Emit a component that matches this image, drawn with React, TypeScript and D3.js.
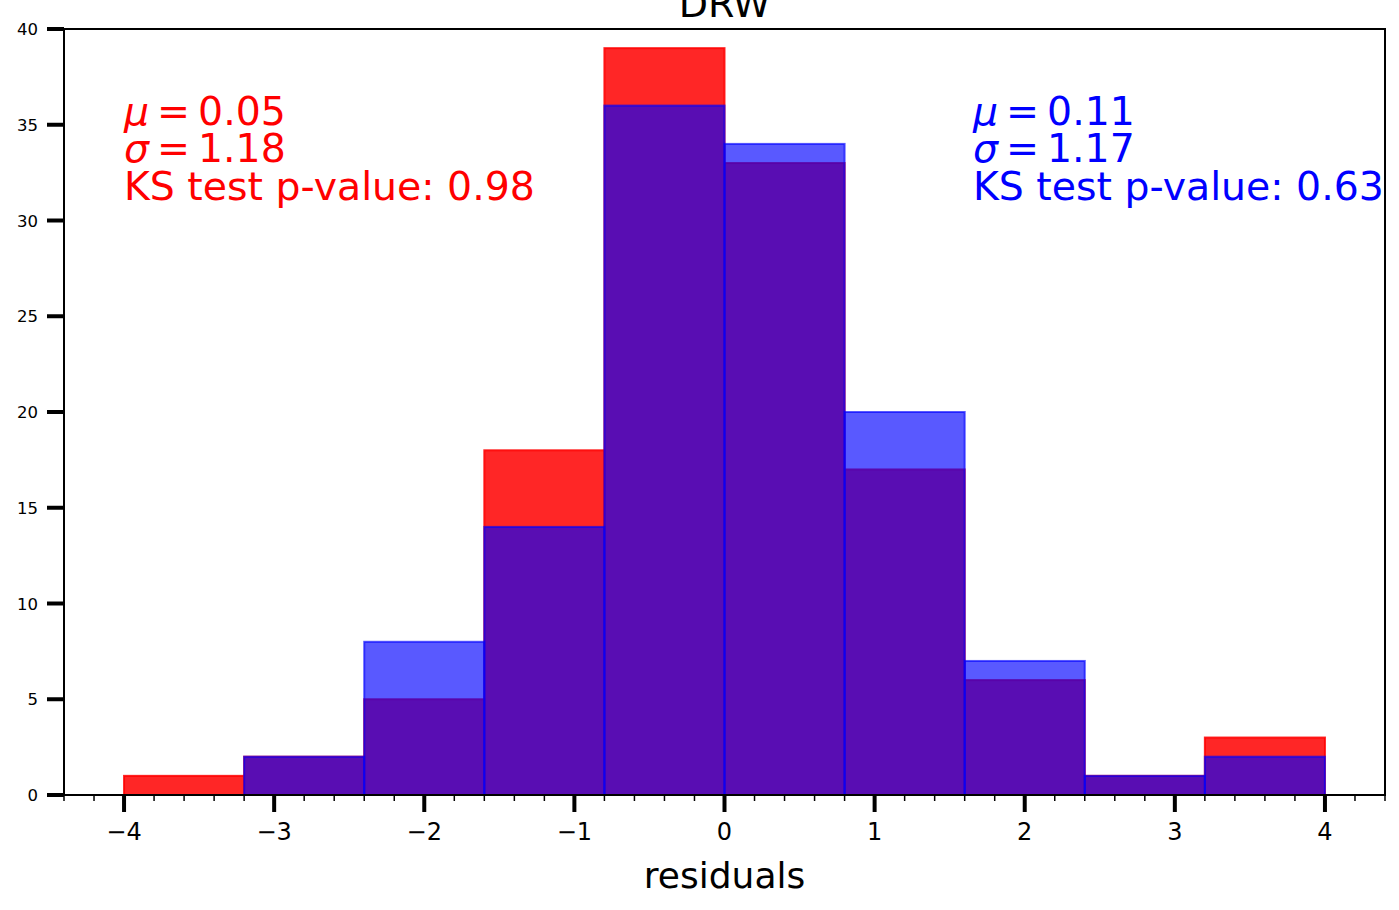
import React, { useEffect, useRef } from 'react';
import * as d3 from 'd3';

const binEdges = [-4, -3.2, -2.4, -1.6, -0.8, 0, 0.8, 1.6, 2.4, 3.2, 4];
const redCounts = [1, 2, 5, 18, 39, 33, 17, 6, 1, 3];
const blueCounts = [0, 2, 8, 14, 36, 34, 20, 7, 1, 2];
const xTicks = [-4, -3, -2, -1, 0, 1, 2, 3, 4];
const yTicks = [0, 5, 10, 15, 20, 25, 30, 35, 40];
const redLines = ['0.05', '1.18', '0.98'];
const blueLines = ['0.11', '1.17', '0.63'];

const App: React.FC = () => {
  const svgRef = useRef<SVGSVGElement>(null);
  const width = 1399;
  const height = 910;

  useEffect(() => {
    document.body.style.margin = '0';
    if (!svgRef.current) return;
    const svg = d3.select(svgRef.current);
    svg.selectAll('*').remove();

    const left = 64, right = 1385, top = 29, bottom = 795;
    const font = 'DejaVu Sans, sans-serif';

    const x = d3.scaleLinear().domain([-4.4, 4.4]).range([left, right]);
    const y = d3.scaleLinear().domain([0, 40]).range([bottom, top]);

    const bins = (counts: number[]) =>
      counts.map((c, i) => ({ x0: binEdges[i], x1: binEdges[i + 1], c }));

    const drawHist = (counts: number[], color: string, alpha: number) => {
      svg.append('g')
        .selectAll('rect')
        .data(bins(counts).filter(d => d.c > 0))
        .enter()
        .append('rect')
        .attr('x', d => x(d.x0))
        .attr('width', d => x(d.x1) - x(d.x0))
        .attr('y', d => y(d.c))
        .attr('height', d => y(0) - y(d.c))
        .attr('fill', color)
        .attr('fill-opacity', alpha)
        .attr('stroke', color)
        .attr('stroke-opacity', alpha)
        .attr('stroke-width', 2);
    };

    drawHist(redCounts, '#ff0000', 0.85);
    drawHist(blueCounts, '#0000ff', 0.65);

    // frame
    svg.append('rect')
      .attr('x', left).attr('y', top)
      .attr('width', right - left).attr('height', bottom - top)
      .attr('fill', 'none').attr('stroke', 'black').attr('stroke-width', 2);

    // x minor ticks
    const minor = d3.range(-22, 23).map(i => i / 5).filter(v => Math.abs(v - Math.round(v)) > 1e-6);
    svg.append('g').selectAll('line').data(minor).enter().append('line')
      .attr('x1', d => x(d)).attr('x2', d => x(d))
      .attr('y1', bottom).attr('y2', bottom + 6)
      .attr('stroke', 'black').attr('stroke-width', 1.5);

    // x major ticks
    const xg = svg.append('g');
    xg.selectAll('line').data(xTicks).enter().append('line')
      .attr('x1', d => x(d)).attr('x2', d => x(d))
      .attr('y1', bottom).attr('y2', bottom + 17)
      .attr('stroke', 'black').attr('stroke-width', 4);
    xg.selectAll('text').data(xTicks).enter().append('text')
      .attr('x', d => x(d)).attr('y', 840)
      .attr('text-anchor', 'middle')
      .style('font-family', font).style('font-size', '24px')
      .text(d => (d < 0 ? '\u2212' + Math.abs(d) : String(d)));

    // y major ticks
    const yg = svg.append('g');
    yg.selectAll('line').data(yTicks).enter().append('line')
      .attr('x1', left - 17).attr('x2', left)
      .attr('y1', d => y(d)).attr('y2', d => y(d))
      .attr('stroke', 'black').attr('stroke-width', 4);
    yg.selectAll('text').data(yTicks).enter().append('text')
      .attr('x', 38).attr('y', d => y(d) + 6)
      .attr('text-anchor', 'end')
      .style('font-family', font).style('font-size', '16.5px')
      .text(d => String(d));

    // labels
    svg.append('text')
      .attr('x', (left + right) / 2).attr('y', 888)
      .attr('text-anchor', 'middle')
      .style('font-family', font).style('font-size', '36px')
      .text('residuals');

    svg.append('text')
      .attr('x', (left + right) / 2).attr('y', 17)
      .attr('text-anchor', 'middle')
      .style('font-family', font).style('font-size', '38px')
      .text('DRW');

    // stats annotations
    const drawStats = (vals: string[], xPos: number, color: string) => {
      const g = svg.append('g').style('font-family', font).style('font-size', '39.4px').attr('fill', color);
      const t1 = g.append('text').attr('x', xPos).attr('y', 125);
      t1.append('tspan').style('font-style', 'italic').text('\u03bc');
      t1.append('tspan').attr('dx', 8).text('=');
      t1.append('tspan').attr('dx', 8).text(vals[0]);
      const t2 = g.append('text').attr('x', xPos).attr('y', 162);
      t2.append('tspan').style('font-style', 'italic').text('\u03c3');
      t2.append('tspan').attr('dx', 8).text('=');
      t2.append('tspan').attr('dx', 8).text(vals[1]);
      g.append('text').attr('x', xPos).attr('y', 200).text('KS test p-value: ' + vals[2]);
    };
    drawStats(redLines, 124, '#ff0000');
    drawStats(blueLines, 973, '#0000ff');
  }, []);

  return <svg ref={svgRef} width={width} height={height} style={{ display: 'block' }} />;
};

export default App;
